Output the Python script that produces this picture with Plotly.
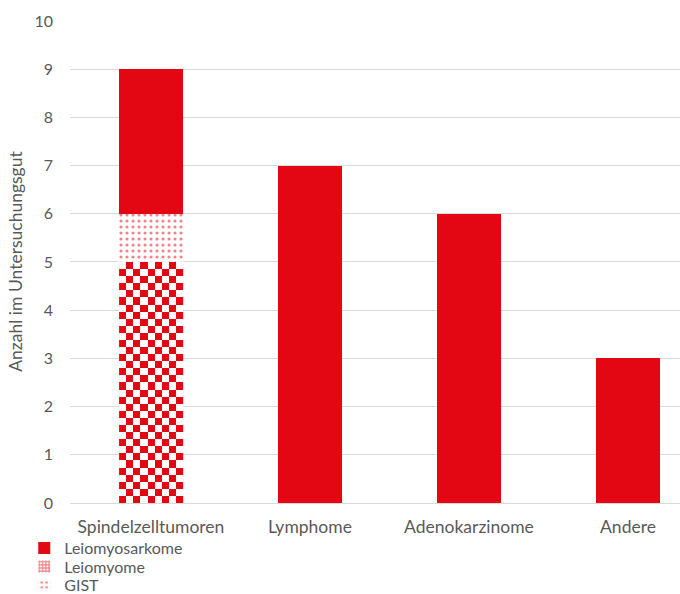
import numpy as np
import plotly.graph_objects as go

# Tumour counts per category
categories = ["Spindelzelltumoren", "Lymphome", "Adenokarzinome", "Andere"]
leiomyome = [5, 0, 0, 0]
gist = [1, 0, 0, 0]
leiomyosarkome = [3, 0, 0, 0]
weitere = [0, 7, 6, 3]

RED = "#E30613"
GREY_TXT = "#595959"
GRID = "#D9D9D9"
FONT = "Lato"
FS = 17.5
LEG_FS = 16
BAR_W = 0.4

xpos = list(range(len(categories)))

fig = go.Figure()

fig.add_bar(x=xpos, y=leiomyome, name="Leiomyome", width=BAR_W,
            marker=dict(color="white", line=dict(width=0),
                        pattern=dict(shape="+", fgcolor=RED, bgcolor="white",
                                     size=4, solidity=0.6)),
            legend="legend2")
fig.add_bar(x=xpos, y=gist, name="GIST", width=BAR_W,
            marker=dict(color="white", line=dict(width=0),
                        pattern=dict(shape=".", fgcolor=RED, bgcolor="white",
                                     size=6, solidity=0.22)),
            legend="legend3")
fig.add_bar(x=xpos, y=leiomyosarkome, name="Leiomyosarkome", width=BAR_W,
            marker=dict(color=RED, line=dict(width=0)), legend="legend")
fig.add_bar(x=xpos, y=weitere, name="weitere", width=BAR_W,
            marker=dict(color=RED, line=dict(width=0)), showlegend=False)

# Checkerboard fill for the Leiomyome segment, laid over the bar
nx = 9
for i, v in enumerate(leiomyome):
    if v <= 0:
        continue
    ny = int(round(v * 34 / 5))
    dx = BAR_W / nx
    dy = v / ny
    z = (np.add.outer(np.arange(ny), np.arange(nx)) % 2 == 0).astype(int)
    fig.add_heatmap(z=z, x0=i - BAR_W / 2 + dx / 2, dx=dx, y0=dy / 2, dy=dy,
                    colorscale=[[0, "white"], [1, RED]], showscale=False,
                    hoverinfo="skip", xaxis="x2", yaxis="y2")

XR = [-0.509, 3.327]
YR = [0, 10.02]


def legend_row(y):
    return dict(orientation="v", x=-0.075, xanchor="left", y=y, yanchor="middle",
                font=dict(size=LEG_FS, color=GREY_TXT), itemwidth=30,
                bgcolor="rgba(0,0,0,0)", borderwidth=0)


fig.update_layout(
    barmode="stack",
    width=680, height=594,
    margin=dict(l=70, r=0, t=20, b=91, autoexpand=False),
    paper_bgcolor="white", plot_bgcolor="white",
    font=dict(family=FONT, size=FS, color=GREY_TXT),
    xaxis=dict(range=XR, tickmode="array", tickvals=xpos, ticktext=categories,
               showgrid=False, showline=True, linecolor=GRID, linewidth=1,
               ticks="", ticklabelstandoff=8, tickfont=dict(size=FS, color=GREY_TXT)),
    yaxis=dict(range=YR, dtick=1, showgrid=True, gridcolor=GRID, gridwidth=1,
               zeroline=False, ticks="", ticklabelstandoff=16,
               tickfont=dict(size=16, color=GREY_TXT),
               title=dict(text="Anzahl im Untersuchungsgut", standoff=7,
                          font=dict(size=FS, color=GREY_TXT))),
    xaxis2=dict(range=XR, overlaying="x", visible=False),
    yaxis2=dict(range=YR, overlaying="y", visible=False),
    legend=legend_row(-0.0932),
    legend2=legend_row(-0.1315),
    legend3=legend_row(-0.1698),
    showlegend=True,
)

fig.write_html("out.html")
